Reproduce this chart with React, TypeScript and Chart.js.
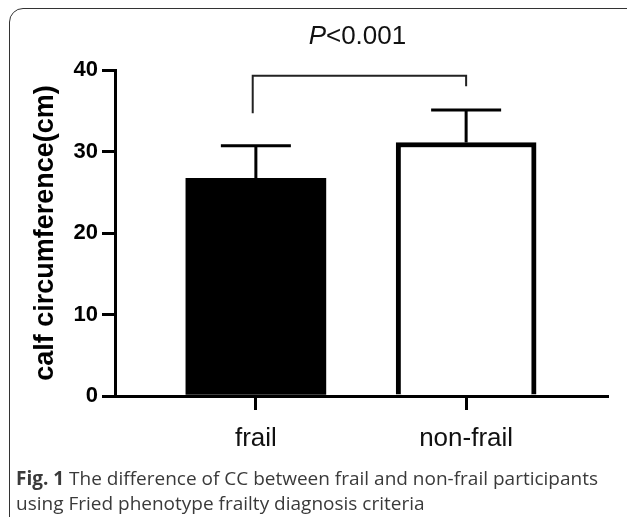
import React, { useEffect, useRef } from "react";
import { Chart, registerables } from "chart.js";

Chart.register(...registerables);

// ---- data ----
const categories = ["frail", "non-frail"];
const categoryX = [1, 2];
const means = [26.7, 31.1];
const sds = [4.0, 4.0];
const yTicks = [0, 10, 20, 30, 40];
const barFills = ["#000000", "#ffffff"];
const barBorders = [0, 5];
const yTitle = "calf circumference(cm)";
const pItalic = "P";
const pRest = "<0.001";
const bracketX = [0.985, 2.0];
const bracketTop = 39.3;
const bracketLegEnds = [34.7, 38.0];
const captionBold = "Fig. 1";
const captionText =
  " The difference of CC between frail and non-frail participants using Fried phenotype frailty diagnosis criteria";

const annotationPlugin = {
  id: "annot",
  afterDatasetsDraw(chart: any) {
    const ctx = chart.ctx;
    const xs = chart.scales.x;
    const ys = chart.scales.y;
    ctx.save();
    // error bars
    ctx.strokeStyle = "#000";
    ctx.lineWidth = 3;
    means.forEach((m, i) => {
      const x = xs.getPixelForValue(categoryX[i]);
      const y0 = ys.getPixelForValue(m);
      const y1 = ys.getPixelForValue(m + sds[i]);
      ctx.beginPath();
      ctx.moveTo(x, y0);
      ctx.lineTo(x, y1);
      ctx.moveTo(x - 35, y1);
      ctx.lineTo(x + 35, y1);
      ctx.stroke();
    });
    // bracket
    const bl = xs.getPixelForValue(bracketX[0]);
    const br = xs.getPixelForValue(bracketX[1]);
    const bt = ys.getPixelForValue(bracketTop);
    ctx.strokeStyle = "#222";
    ctx.lineWidth = 2;
    ctx.beginPath();
    ctx.moveTo(bl, ys.getPixelForValue(bracketLegEnds[0]));
    ctx.lineTo(bl, bt);
    ctx.lineTo(br, bt);
    ctx.lineTo(br, ys.getPixelForValue(bracketLegEnds[1]));
    ctx.stroke();
    // P value text
    ctx.fillStyle = "#111";
    ctx.textBaseline = "alphabetic";
    ctx.font = "italic 26px 'Liberation Sans', Arial, sans-serif";
    const w1 = ctx.measureText(pItalic).width;
    ctx.font = "26px 'Liberation Sans', Arial, sans-serif";
    const w2 = ctx.measureText(pRest).width;
    const cx = (bl + br) / 2 - 2;
    const ty = bt - 32;
    const sx = cx - (w1 + w2) / 2;
    ctx.font = "italic 26px 'Liberation Sans', Arial, sans-serif";
    ctx.textAlign = "left";
    ctx.fillText(pItalic, sx, ty);
    ctx.font = "26px 'Liberation Sans', Arial, sans-serif";
    ctx.fillText(pRest, sx + w1, ty);
    ctx.restore();
  },
};

export default function App() {
  const ref = useRef<HTMLCanvasElement | null>(null);
  useEffect(() => {
    if (!ref.current) return;
    const chart = new Chart(ref.current, {
      type: "bar",
      data: {
        datasets: [
          {
            data: means.map((m, i) => ({ x: categoryX[i], y: m })),
            backgroundColor: barFills,
            borderColor: "#000",
            borderWidth: barBorders,
            barThickness: 140,
          } as any,
        ],
      },
      options: {
        animation: false,
        responsive: false,
        events: [],
        layout: { padding: { left: 0, top: 70, right: 20, bottom: 0 } },
        plugins: { legend: { display: false }, tooltip: { enabled: false } },
        scales: {
          x: {
            type: "linear",
            offset: false,
            min: 0.33,
            max: 2.67,
            afterBuildTicks: (s: any) => {
              s.ticks = categoryX.map((v) => ({ value: v }));
            },
            afterFit: (s: any) => {
              s.height = 121;
            },
            ticks: {
              callback: (v: any) => categories[categoryX.indexOf(Number(v))] ?? "",
              font: { family: "'Liberation Sans', Arial, sans-serif", size: 26 },
              color: "#111",
              padding: 13,
              maxRotation: 0,
            },
            grid: {
              offset: false,
              drawOnChartArea: false,
              tickLength: 14,
              lineWidth: 3,
              color: "#000",
            },
            border: { color: "#000", width: 3 },
          },
          y: {
            min: 0,
            max: 40,
            afterBuildTicks: (s: any) => {
              s.ticks = yTicks.map((v) => ({ value: v }));
            },
            afterFit: (s: any) => {
              s.width = 115;
            },
            ticks: {
              font: { family: "'Liberation Sans', Arial, sans-serif", size: 22, weight: "bold" },
              color: "#000",
              padding: 4,
            },
            grid: {
              drawOnChartArea: false,
              tickLength: 13,
              lineWidth: 3,
              color: "#000",
            },
            border: { color: "#000", width: 3 },
            title: {
              display: true,
              text: yTitle,
              font: { family: "'Liberation Sans', Arial, sans-serif", size: 27, weight: "bold" },
              color: "#000",
              padding: { top: 29, bottom: 0 },
            },
          },
        },
      } as any,
      plugins: [annotationPlugin],
    });
    return () => chart.destroy();
  }, []);

  return (
    <div
      style={{
        position: "fixed",
        left: 0,
        top: 0,
        width: 627,
        height: 517,
        overflow: "hidden",
        background: "#fff",
      }}
    >
      <div
        style={{
          position: "absolute",
          left: 9,
          top: 8,
          width: 640,
          height: 530,
          border: "1.5px solid #333",
          borderRadius: 14,
          boxSizing: "border-box",
        }}
      />
      <canvas
        ref={ref}
        width={627}
        height={517}
        style={{ position: "absolute", left: 0, top: 0, width: 627, height: 517 }}
      />
      <div
        style={{
          position: "absolute",
          left: 16,
          top: 466,
          width: 610,
          fontFamily: "'Open Sans', sans-serif",
          fontSize: 19,
          lineHeight: "25px",
          color: "#3a3a3a",
        }}
      >
        <b>{captionBold}</b>
        {captionText}
      </div>
    </div>
  );
}
